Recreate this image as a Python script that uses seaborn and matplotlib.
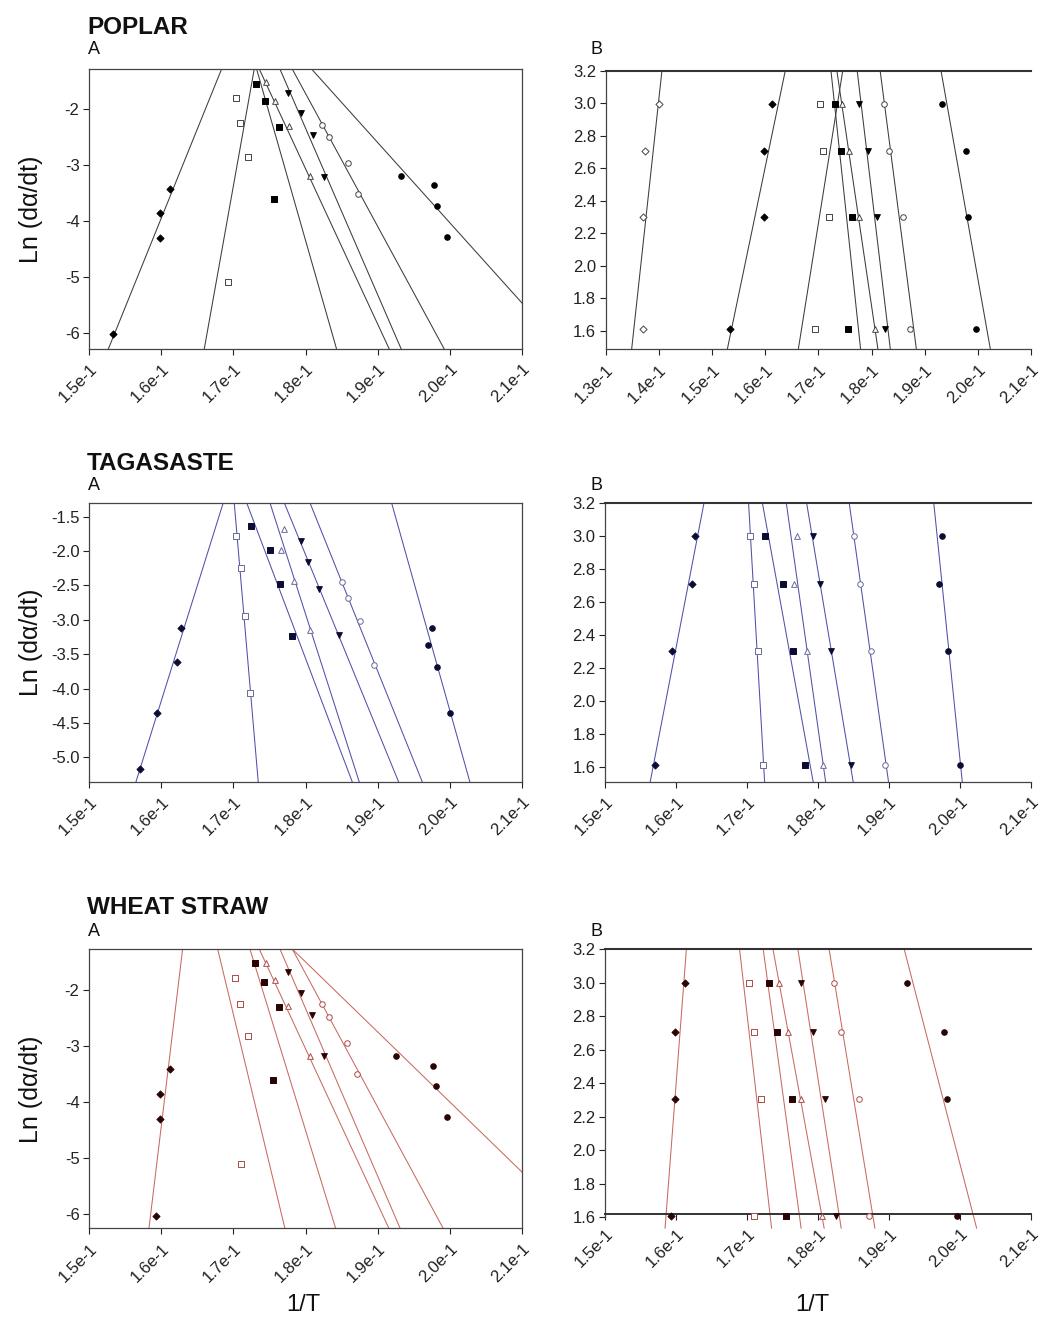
import numpy as np
import pandas as pd
import matplotlib
matplotlib.use("Agg")
import matplotlib.pyplot as plt
import seaborn as sns

sns.set_theme(style="ticks")
plt.rcParams["font.family"] = ["Liberation Sans", "DejaVu Sans"]

# ---------------- data ----------------
# ln(beta) for heating rates 5, 10, 15, 20 (panel B y-values)
ln_beta = [1.609, 2.303, 2.708, 2.996]

series_order = ["diamond_f", "square_o", "square_f", "tri_o", "tridown_f", "circle_o", "circle_f"]

# POPLAR : 1/T values (same x in panel A and B), ln(da/dt) for panel A
poplar_diamond_f_x = [0.15335, 0.15985, 0.15985, 0.16125]
poplar_square_o_x = [0.16928, 0.17205, 0.17090, 0.17030]
poplar_square_f_x = [0.17562, 0.17635, 0.17432, 0.17313]
poplar_tri_o_x = [0.18064, 0.17765, 0.17577, 0.17453]
poplar_tridown_f_x = [0.18257, 0.18098, 0.17942, 0.17757]
poplar_circle_o_x = [0.18726, 0.18585, 0.18330, 0.18233]
poplar_circle_f_x = [0.19970, 0.19818, 0.19780, 0.19328]
poplar_diamond_o_x = [0.13705, 0.13698, 0.13748, 0.14007]

poplar_diamond_f_lnrate = [-6.01, -4.30, -3.85, -3.42]
poplar_square_o_lnrate = [-5.08, -2.85, -2.25, -1.79]
poplar_square_f_lnrate = [-3.61, -2.32, -1.86, -1.54]
poplar_tri_o_lnrate = [-3.19, -2.30, -1.86, -1.52]
poplar_tridown_f_lnrate = [-3.20, -2.46, -2.07, -1.70]
poplar_circle_o_lnrate = [-3.51, -2.95, -2.50, -2.28]
poplar_circle_f_lnrate = [-4.28, -3.72, -3.36, -3.19]

# TAGASASTE
tag_diamond_f_x = [0.15705, 0.15945, 0.16222, 0.16271]
tag_square_o_x = [0.17226, 0.17158, 0.17100, 0.17038]
tag_square_f_x = [0.17816, 0.17650, 0.17514, 0.17250]
tag_tri_o_x = [0.18068, 0.17844, 0.17657, 0.17699]
tag_tridown_f_x = [0.18465, 0.18188, 0.18033, 0.17932]
tag_circle_o_x = [0.18950, 0.18752, 0.18588, 0.18503]
tag_circle_f_x = [0.20006, 0.19831, 0.19700, 0.19752]

tag_diamond_f_lnrate = [-5.17, -4.35, -3.62, -3.12]
tag_square_o_lnrate = [-4.06, -2.94, -2.24, -1.78]
tag_square_f_lnrate = [-3.24, -2.48, -1.98, -1.63]
tag_tri_o_lnrate = [-3.15, -2.44, -1.98, -1.68]
tag_tridown_f_lnrate = [-3.22, -2.55, -2.16, -1.86]
tag_circle_o_lnrate = [-3.65, -3.01, -2.68, -2.45]
tag_circle_f_lnrate = [-4.35, -3.69, -3.36, -3.12]

# WHEAT STRAW
wheat_diamond_f_x = [0.15923, 0.15981, 0.15981, 0.16123]
wheat_square_o_x = [0.17102, 0.17199, 0.17095, 0.17021]
wheat_square_f_x = [0.17552, 0.17633, 0.17425, 0.17305]
wheat_tri_o_x = [0.18057, 0.17760, 0.17571, 0.17446]
wheat_tridown_f_x = [0.18251, 0.18093, 0.17934, 0.17752]
wheat_circle_o_x = [0.18717, 0.18581, 0.18325, 0.18225]
wheat_circle_f_x = [0.19961, 0.19811, 0.19771, 0.19252]

wheat_diamond_f_lnrate = [-6.03, -4.30, -3.85, -3.41]
wheat_square_o_lnrate = [-5.10, -2.83, -2.25, -1.78]
wheat_square_f_lnrate = [-3.61, -2.30, -1.85, -1.52]
wheat_tri_o_lnrate = [-3.18, -2.29, -1.83, -1.51]
wheat_tridown_f_lnrate = [-3.18, -2.44, -2.06, -1.68]
wheat_circle_o_lnrate = [-3.50, -2.94, -2.48, -2.25]
wheat_circle_f_lnrate = [-4.27, -3.71, -3.36, -3.18]

# fitted lines y = slope * x + intercept (order = series_order)
poplar_a_slopes = [318.1, 720.6, -450.7, -277.2, -297.1, -237.1, -143.1]
poplar_a_intercepts = [-54.835, -125.864, 76.788, 46.837, 51.143, 40.962, 24.598]
poplar_b_slopes = [157.4, 205.3, -307.7, -222.0, -275.1, -251.7, -184.7]
poplar_b_intercepts = [-22.577, -32.641, 56.241, 41.715, 51.978, 48.916, 38.862]
poplar_b_diamond_o_line = [301.2, -39.14]

tag_a_slopes = [335.2, -1218.9, -277.1, -327.6, -255.9, -260.5, -373.8]
tag_a_intercepts = [-57.807, 206.05, 46.318, 56.054, 44.011, 45.753, 70.451]
tag_b_slopes = [223.1, -748.2, -236.2, -305.2, -257.8, -305.2, -420.6]
tag_b_intercepts = [-33.377, 130.558, 43.864, 56.772, 49.189, 59.476, 85.764]

wheat_a_slopes = [1067.9, -534.5, -419.4, -277.2, -299.0, -238.2, -124.9]
wheat_a_intercepts = [-175.282, 88.426, 70.990, 46.848, 51.491, 41.170, 20.984]
wheat_b_slopes = [553.5, -368.6, -311.4, -230.7, -272.7, -257.9, -163.0]
wheat_b_intercepts = [-86.152, 65.464, 56.839, 43.256, 51.506, 50.019, 34.516]

# ticks
xticks_a = [0.15, 0.16, 0.17, 0.18, 0.19, 0.20, 0.21]
xticklabels_a = ["1.5e-1", "1.6e-1", "1.7e-1", "1.8e-1", "1.9e-1", "2.0e-1", "2.1e-1"]
xticks_pb = [0.13, 0.14, 0.15, 0.16, 0.17, 0.18, 0.19, 0.20, 0.21]
xticklabels_pb = ["1.3e-1", "1.4e-1", "1.5e-1", "1.6e-1", "1.7e-1", "1.8e-1", "1.9e-1", "2.0e-1", "2.1e-1"]
yticks_int = [-2, -3, -4, -5, -6]
yticklabels_int = ["-2", "-3", "-4", "-5", "-6"]
yticks_tag = [-1.5, -2.0, -2.5, -3.0, -3.5, -4.0, -4.5, -5.0]
yticklabels_tag = ["-1.5", "-2.0", "-2.5", "-3.0", "-3.5", "-4.0", "-4.5", "-5.0"]
yticks_b = [1.6, 1.8, 2.0, 2.2, 2.4, 2.6, 2.8, 3.0, 3.2]
yticklabels_b = ["1.6", "1.8", "2.0", "2.2", "2.4", "2.6", "2.8", "3.0", "3.2"]

# ---------------- styling ----------------
MARKERS = {
    "diamond_f": ("D", True, 13), "diamond_o": ("D", False, 13),
    "square_o": ("s", False, 13), "square_f": ("s", True, 13),
    "tri_o": ("^", False, 17), "tridown_f": ("v", True, 17),
    "circle_o": ("o", False, 16), "circle_f": ("o", True, 16),
}
THEMES = {
    "poplar": dict(line="#3c3c3c", fill="#000000", edge="#444444"),
    "tag": dict(line="#5050aa", fill="#0c0c33", edge="#6a6a98"),
    "wheat": dict(line="#c86a60", fill="#2a0404", edge="#a84c48"),
}

W, H = 1045, 1328
fig = plt.figure(figsize=(W / 100, H / 100), dpi=100)


def add_ax(left, top, right, bottom):
    return fig.add_axes([left / W, 1 - bottom / H, (right - left) / W, (bottom - top) / H])


def draw_points(ax, xs, ys, key, theme):
    m, filled, s = MARKERS[key]
    df = pd.DataFrame({"x": xs, "y": ys})
    th = THEMES[theme]
    sns.scatterplot(data=df, x="x", y="y", ax=ax, marker=m, s=s,
                    color=th["fill"] if filled else "white",
                    edgecolor=th["fill"] if filled else th["edge"],
                    linewidth=0.7, zorder=3, clip_on=False)


def draw_line(ax, slope, intercept, y_lo, y_hi, theme, clip=True):
    ys = [y_lo, y_hi]
    xs = [(y - intercept) / slope for y in ys]
    df = pd.DataFrame({"x": xs, "y": ys})
    sns.lineplot(data=df, x="x", y="y", ax=ax, estimator=None, sort=False,
                 color=THEMES[theme]["line"], linewidth=0.75, zorder=2)
    ax.lines[-1].set_clip_on(clip)


def style_ax(ax, xlim, ylim, xticks, xlabels, yticks, ylabels, panel_b=False):
    ax.set_xlim(*xlim)
    ax.set_ylim(*ylim)
    ax.set_xticks(xticks, labels=xlabels, rotation=45, ha="right", va="top",
                  rotation_mode="anchor")
    ax.set_yticks(yticks, labels=ylabels)
    ax.set_xlabel("")
    ax.set_ylabel("")
    ax.tick_params(direction="out", length=4, width=0.8, labelsize=12,
                   colors="#222222", pad=3)
    ax.tick_params(axis="x", pad=5)
    for sp in ax.spines.values():
        sp.set_color("#444444")
        sp.set_linewidth(0.9)
    if panel_b:
        ax.spines["right"].set_visible(False)
        ax.spines["top"].set_linewidth(1.5)
        ax.spines["top"].set_color("#333333")


def panel_a(ax, theme, xs_list, lr_list, slopes, intercepts, ylim, yt, yl):
    for key, xs, ys in zip(series_order, xs_list, lr_list):
        draw_points(ax, xs, ys, key, theme)
    for s, b in zip(slopes, intercepts):
        draw_line(ax, s, b, ylim[0] - 1, ylim[1] + 1, theme)
    style_ax(ax, (0.15, 0.21), ylim, xticks_a, xticklabels_a, yt, yl)


B_RIGHT = 1031

# ---------------- POPLAR ----------------
poplar_xs = [poplar_diamond_f_x, poplar_square_o_x, poplar_square_f_x, poplar_tri_o_x,
             poplar_tridown_f_x, poplar_circle_o_x, poplar_circle_f_x]
poplar_lr = [poplar_diamond_f_lnrate, poplar_square_o_lnrate, poplar_square_f_lnrate,
             poplar_tri_o_lnrate, poplar_tridown_f_lnrate, poplar_circle_o_lnrate,
             poplar_circle_f_lnrate]
ax = add_ax(89.3, 69, 521.7, 349)
panel_a(ax, "poplar", poplar_xs, poplar_lr, poplar_a_slopes, poplar_a_intercepts,
        (-6.28, -1.28), yticks_int, yticklabels_int)

ax = add_ax(605.7, 71, B_RIGHT, 349.3)
ylim = (1.486, 3.2)
for key, xs in zip(series_order, poplar_xs):
    draw_points(ax, xs, ln_beta, key, "poplar")
draw_points(ax, poplar_diamond_o_x, ln_beta, "diamond_o", "poplar")
for s, b in zip(poplar_b_slopes, poplar_b_intercepts):
    draw_line(ax, s, b, ylim[0] - 0.5, ylim[1] + 0.5, "poplar")
draw_line(ax, poplar_b_diamond_o_line[0], poplar_b_diamond_o_line[1],
          ylim[0] - 0.5, ylim[1] + 0.5, "poplar")
style_ax(ax, (0.13, 0.21), ylim, xticks_pb, xticklabels_pb, yticks_b, yticklabels_b, True)

# ---------------- TAGASASTE ----------------
tag_xs = [tag_diamond_f_x, tag_square_o_x, tag_square_f_x, tag_tri_o_x,
          tag_tridown_f_x, tag_circle_o_x, tag_circle_f_x]
tag_lr = [tag_diamond_f_lnrate, tag_square_o_lnrate, tag_square_f_lnrate, tag_tri_o_lnrate,
          tag_tridown_f_lnrate, tag_circle_o_lnrate, tag_circle_f_lnrate]
ax = add_ax(89.3, 502.7, 521.7, 781.7)
panel_a(ax, "tag", tag_xs, tag_lr, tag_a_slopes, tag_a_intercepts,
        (-5.355, -1.296), yticks_tag, yticklabels_tag)

ax = add_ax(605, 502.7, B_RIGHT, 781.7)
ylim = (1.509, 3.2)
for key, xs in zip(series_order, tag_xs):
    draw_points(ax, xs, ln_beta, key, "tag")
for s, b in zip(tag_b_slopes, tag_b_intercepts):
    draw_line(ax, s, b, ylim[0] - 0.5, ylim[1] + 0.5, "tag")
style_ax(ax, (0.15, 0.21), ylim, xticks_a, xticklabels_a, yticks_b, yticklabels_b, True)

# ---------------- WHEAT STRAW ----------------
wheat_xs = [wheat_diamond_f_x, wheat_square_o_x, wheat_square_f_x, wheat_tri_o_x,
            wheat_tridown_f_x, wheat_circle_o_x, wheat_circle_f_x]
wheat_lr = [wheat_diamond_f_lnrate, wheat_square_o_lnrate, wheat_square_f_lnrate,
            wheat_tri_o_lnrate, wheat_tridown_f_lnrate, wheat_circle_o_lnrate,
            wheat_circle_f_lnrate]
ax = add_ax(89.3, 949, 521.7, 1228.3)
panel_a(ax, "wheat", wheat_xs, wheat_lr, wheat_a_slopes, wheat_a_intercepts,
        (-6.255, -1.268), yticks_int, yticklabels_int)

ax = add_ax(605.3, 949, B_RIGHT, 1217.3)
ax.spines["bottom"].set_position(("data", 1.62))
ylim = (1.6, 3.2)
for key, xs in zip(series_order, wheat_xs):
    draw_points(ax, xs, ln_beta, key, "wheat")
for s, b in zip(wheat_b_slopes, wheat_b_intercepts):
    draw_line(ax, s, b, 1.534, 3.2, "wheat", clip=False)
style_ax(ax, (0.15, 0.21), ylim, xticks_a, xticklabels_a, yticks_b, yticklabels_b, True)
ax.spines["bottom"].set_linewidth(1.4)
ax.spines["bottom"].set_color("#333333")

# ---------------- texts ----------------
def ftext(x, y, s, **kw):
    fig.text(x / W, 1 - y / H, s, **kw)

for title, ty, ly in [("POPLAR", 28, 50), ("TAGASASTE", 463, 486), ("WHEAT STRAW", 908, 932)]:
    ftext(87, ty, title, fontsize=17.5, fontweight="bold", va="center", ha="left", color="#111111")
    ftext(88, ly, "A", fontsize=13, va="center", ha="left", color="#111111")
    ftext(590, ly, "B", fontsize=13, va="center", ha="left", color="#111111")

for cy in [209, 642, 1089]:
    ftext(31, cy, "Ln (d\u03b1/dt)", fontsize=18, rotation=90, va="center", ha="center",
          color="#111111")

ftext(303, 1305, "1/T", fontsize=17, va="center", ha="center", color="#111111")
ftext(812, 1305, "1/T", fontsize=17, va="center", ha="center", color="#111111")

fig.savefig("out.png", dpi=100, facecolor="white")
